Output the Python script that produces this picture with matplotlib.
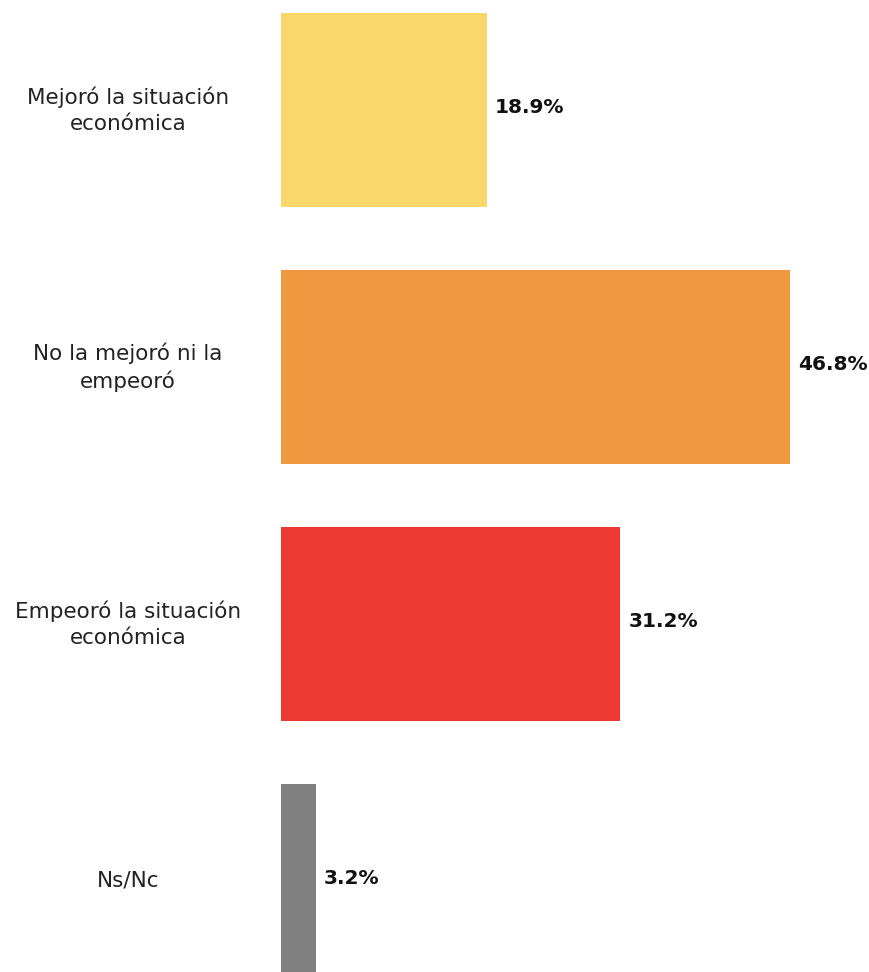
import matplotlib.pyplot as plt
from matplotlib.transforms import blended_transform_factory

categories = ["Mejoró la situación\neconómica", "No la mejoró ni la\nempeoró",
              "Empeoró la situación\neconómica", "Ns/Nc"]
values = [18.9, 46.8, 31.2, 3.2]
colors = ["#F9D76B", "#EE993F", "#EE3A35", "#808080"]

plt.rcParams['font.family'] = ['DejaVu Sans']

fig = plt.figure(figsize=(8.7, 9.72), dpi=100)
ax = fig.add_axes([281 / 870, 0, 1 - 281 / 870, 1])

pos = list(range(len(categories)))
ax.barh(pos, values, height=194 / 257, color=colors)
ax.set_xlim(0, (870 - 281) / (509 / 46.8))
ax.set_ylim(3 + 91 / 257, -110 / 257)
ax.axis("off")

# category labels, centered in the left margin
trans = blended_transform_factory(fig.transFigure, ax.transData)
for p, cat in zip(pos, categories):
    fig.text(128 / 870, p, cat, transform=trans, ha="center", va="center",
             fontsize=15.5, color="#222222", linespacing=1.35)

# value labels next to the bars
for p, v in zip(pos, values):
    ax.annotate(f"{v}%", (v, p), xytext=(6, 2), textcoords="offset points",
                ha="left", va="center", fontsize=14.5, fontweight="bold",
                color="#111111")

fig.savefig("out.png", dpi=100)
